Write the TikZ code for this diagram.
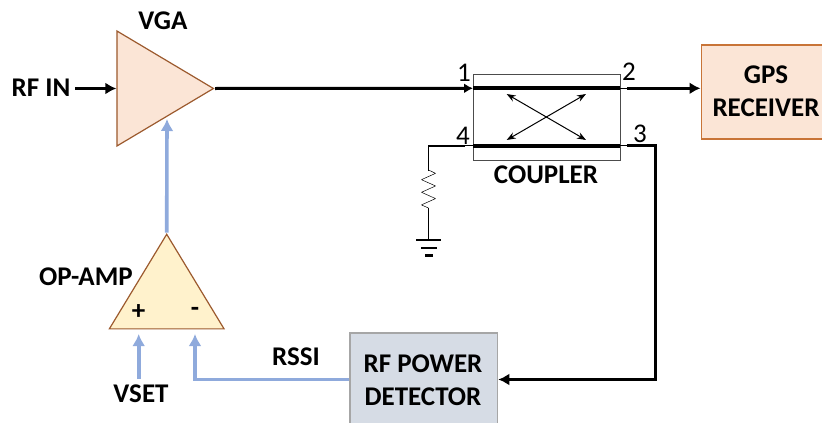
\documentclass[tikz,border=0pt]{standalone}
\usepackage{fontspec}
\setmainfont{Carlito}
\usepackage[americanresistors]{circuitikz}
\usetikzlibrary{arrows.meta,shapes.geometric}
\definecolor{peach}{HTML}{FBE5D6}
\definecolor{cream}{HTML}{FFF2CC}
\definecolor{slate}{HTML}{D6DCE5}
\definecolor{rust}{HTML}{9C5A2E}
\definecolor{edgeor}{HTML}{C87437}
\definecolor{sky}{HTML}{8FAADC}
\begin{document}
\begin{tikzpicture}
[
    x = 1pt, y = -1pt,
    label/.style = {font = \fontsize{27}{33}\selectfont\bfseries, align = center, inner sep = 0pt},
    port/.style = {font = \fontsize{27}{30}\selectfont, inner sep = 0pt},
    amp/.style = {draw = rust, line width = 1.2pt, isosceles triangle, isosceles triangle stretches, inner sep = 0pt, anchor = apex},
    block/.style = {line width = 1.5pt, inner sep = 0pt, anchor = north west},
    rfline/.style = {line width = 3pt, -{Latex[length = 11pt, width = 12pt]}},
    bluewire/.style = {line width = 3.6pt, sky, -{Latex[length = 12pt, width = 13pt]}},
    thinwire/.style = {line width = 1pt}
]
\path[use as bounding box, clip] (0,0) rectangle (822,423);

\node[amp, fill = peach, shape border rotate = 0, minimum width = 115pt, minimum height = 96.5pt] (vga) at (215,88.5) {};
\node[amp, fill = cream, shape border rotate = 90, minimum width = 114.7pt, minimum height = 94.6pt] (opamp) at (166.7,232.7) {};
\node[block, draw = edgeor, fill = peach, minimum width = 140pt, minimum height = 94pt] (gps) at (700.5,44) {};
\node[block, draw = black!35, fill = slate, minimum width = 147.5pt, minimum height = 110pt] (detector) at (349.3,332) {};
\node[block, draw = black!70, line width = 1pt, minimum width = 147pt, minimum height = 86pt] (coupler) at (473,74) {};

% text
\node[label] (vgatext) at (163,21) {VGA};
\node[label] (rfin) at (41,88) {RF IN};
\node[label, anchor = east] (optext) at (133,277) {OP-AMP};
\node[label] (plus) at (138.5,312) {+};
\node[label] (minus) at (195,312) {-};
\node[label] (vset) at (141,394) {VSET};
\node[label] (rssi) at (296,357) {RSSI};
\node[label] (coupltext) at (546,175) {COUPLER};
\node[label] (gpstext) at (766,91) {GPS\\RECEIVER};
\node[label] (dettext) at (423,380) {RF POWER\\DETECTOR};
\node[port] (pone) at (464,73) {1};
\node[port] (ptwo) at (629,72) {2};
\node[port] (pthree) at (640,134) {3};
\node[port] (pfour) at (463,136) {4};

% coupler ports
\coordinate (aone) at (473,88.3);
\coordinate (atwo) at (620,88.3);
\coordinate (athree) at (620,145.7);
\coordinate (afour) at (473,145.7);
\coordinate (bone) at (473,88.3);
\coordinate (btwo) at (627,88.3);
\coordinate (bthree) at (627,145.7);
\coordinate (bfour) at (465,145.7);
\coordinate (cfour) at (428.5,145.7);
\coordinate (rtop) at (428.5,170);
\coordinate (rbot) at (428.5,208);
\coordinate (gnd) at (428.5,240);
\coordinate (cthree) at (655,145.7);
\coordinate (cdet) at (655,379.5);
\coordinate (rfstart) at (75,88.5);
\coordinate (setstart) at (138.7,379);
\coordinate (settip) at (138.7,334);
\coordinate (rssitip) at (195,334);
\coordinate (rssicorner) at (195,379.5);
\coordinate (vgatip) at (167,119);

\draw[line width = 4pt] (aone) -- (atwo);
\draw[line width = 4pt] (afour) -- (athree);
\draw[thinwire] (atwo) -- (btwo) (bfour) -- (afour) (athree) -- (bthree);
\draw[thinwire, {Stealth[length = 9pt]}-{Stealth[length = 9pt]}] (506.7,94) -- (586,140);
\draw[thinwire, {Stealth[length = 9pt]}-{Stealth[length = 9pt]}] (586,94) -- (506.7,140);

% rf path
\draw[rfline] (rfstart) -- (vga.west |- rfstart);
\draw[rfline, -{Latex[length = 9pt, width = 10pt]}] (vga.apex) -- (bone);
\draw[rfline] (btwo) -- (btwo -| gps.west);
\draw[rfline, line join = miter] (bthree) -- (cthree) -- (cdet) -- (cdet -| detector.east);

% load
\draw[line width = 1.8pt] (bfour) -- (cfour) -- (rtop);
\ctikzset{bipoles/length = 47pt, resistors/thickness = 0.5}
\draw[thinwire] (rtop) to[R] (rbot) -- (gnd);
\draw[line width = 1.8pt] (gnd) ++(0,-10) -- (gnd);
\draw[line width = 2.8pt] (416,240) -- (441,240) (421,248) -- (437,248);
\draw[line width = 3pt] (425,255.6) -- (433,255.6);

% control loop
\draw[bluewire] (opamp.apex) -- (vgatip);
\draw[bluewire] (setstart) -- (settip);
\draw[bluewire, line join = miter] (detector.west |- cdet) -- (rssicorner) -- (rssitip);
\end{tikzpicture}
\end{document}
